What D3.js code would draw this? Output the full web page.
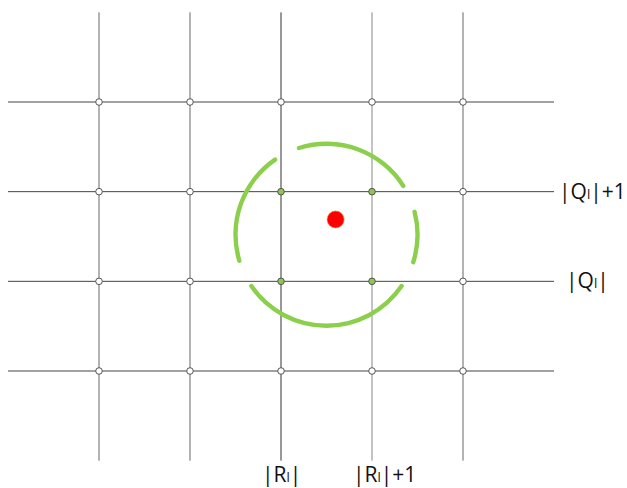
<!DOCTYPE html>
<html>
<head>
<meta charset="utf-8">
<script src="https://cdn.jsdelivr.net/npm/d3@7"></script>
<style>
	body { margin: 0; background: #fff; }
	text { font-family: "Open Sans", Lato, sans-serif; fill: #111; }
</style>
</head>
<body>
<div id="chart"></div>
<script>

// grid columns / rows (in grid units)
var cols = [0, 1, 2, 3, 4];
var rows = [0, 1, 2, 3];
var colShades = ["#666", "#666", "#333", "#888", "#666"];

// highlighted cell corners
var cellCorners = [[2, 1], [3, 1], [2, 2], [3, 2]];

// sample point and search ring
var point = [2.6, 1.31];
var ringCenter = [2.5, 1.48];
var ringRadius = 1.0;
var ringArcs = [[-19, 59], [74, 109], [123, 237], [252, 327]]; // degrees, clockwise from top

// axis labels
var rowLabels = [{ row: 1, main: "|Q", sub: "l", tail: "|+1" }, { row: 2, main: "|Q", sub: "l", tail: "|" }];
var colLabels = [{ col: 2, main: "|R", sub: "l", tail: "|" }, { col: 3, main: "|R", sub: "l", tail: "|+1" }];

var totalWidth = 627, totalHeight = 488;

var xScale = d3.scaleLinear().domain([0, 4]).range([99, 463]);
var yScale = d3.scaleLinear().domain([0, 3]).range([102, 371]);
var unit = xScale(1) - xScale(0);

var svg = d3.select("#chart").append("svg")
	.attr("width", totalWidth)
	.attr("height", totalHeight);

var gridGroup = svg.append("g").attr("id", "grid");

gridGroup.selectAll("line.h")
	.data(rows)
	.enter()
	.append("line")
	.attr("class", "h")
	.attr("x1", xScale(-1))
	.attr("x2", xScale(5))
	.attr("y1", function (d) { return yScale(d); })
	.attr("y2", function (d) { return yScale(d); })
	.attr("stroke", "#444")
	.attr("stroke-width", 1);

gridGroup.selectAll("line.v")
	.data(cols)
	.enter()
	.append("line")
	.attr("class", "v")
	.attr("x1", function (d) { return xScale(d); })
	.attr("x2", function (d) { return xScale(d); })
	.attr("y1", yScale(-1))
	.attr("y2", yScale(4))
	.attr("stroke", function (d, i) { return colShades[i]; })
	.attr("stroke-width", 1);

// nodes at every intersection
var nodes = [];
rows.forEach(function (r) {
	cols.forEach(function (c) { nodes.push([c, r]); });
});

function isCorner(n) {
	return cellCorners.some(function (k) { return k[0] === n[0] && k[1] === n[1]; });
}

svg.append("g").attr("id", "nodes")
	.selectAll("circle")
	.data(nodes)
	.enter()
	.append("circle")
	.attr("cx", function (d) { return xScale(d[0]); })
	.attr("cy", function (d) { return yScale(d[1]); })
	.attr("r", 3.3)
	.attr("fill", function (d) { return isCorner(d) ? "#8cc850" : "#fff"; })
	.attr("stroke", "#555")
	.attr("stroke-width", 1);

// search ring
var arc = d3.arc()
	.innerRadius(ringRadius * unit - 2.2)
	.outerRadius(ringRadius * unit + 2.2)
	.cornerRadius(2.2);

svg.append("g")
	.attr("transform", "translate(" + xScale(ringCenter[0]) + "," + yScale(ringCenter[1]) + ")")
	.selectAll("path")
	.data(ringArcs)
	.enter()
	.append("path")
	.attr("d", function (d) {
		return arc({ startAngle: d[0] * Math.PI / 180, endAngle: d[1] * Math.PI / 180 });
	})
	.attr("fill", "#8ccf4d");

svg.append("circle")
	.attr("cx", xScale(point[0]))
	.attr("cy", yScale(point[1]))
	.attr("r", 8.5)
	.attr("fill", "#ff0000")
	.attr("stroke", "#f08040")
	.attr("stroke-width", 0.6);

function writeLabel(sel, d) {
	sel.append("tspan").text(d.main);
	sel.append("tspan").attr("font-size", "13px").text(d.sub);
	sel.append("tspan").text(d.tail);
}

svg.append("g").selectAll("text")
	.data(rowLabels)
	.enter()
	.append("text")
	.attr("x", function (d) { return d.tail === "|" ? 566 : 559; })
	.attr("y", function (d) { return yScale(d.row) + 7; })
	.attr("font-size", "21px")
	.each(function (d) { writeLabel(d3.select(this), d); });

svg.append("g").selectAll("text")
	.data(colLabels)
	.enter()
	.append("text")
	.attr("x", function (d) { return xScale(d.col) - 19; })
	.attr("y", 482)
	.attr("font-size", "21px")
	.each(function (d) { writeLabel(d3.select(this), d); });

</script>
</body>
</html>
